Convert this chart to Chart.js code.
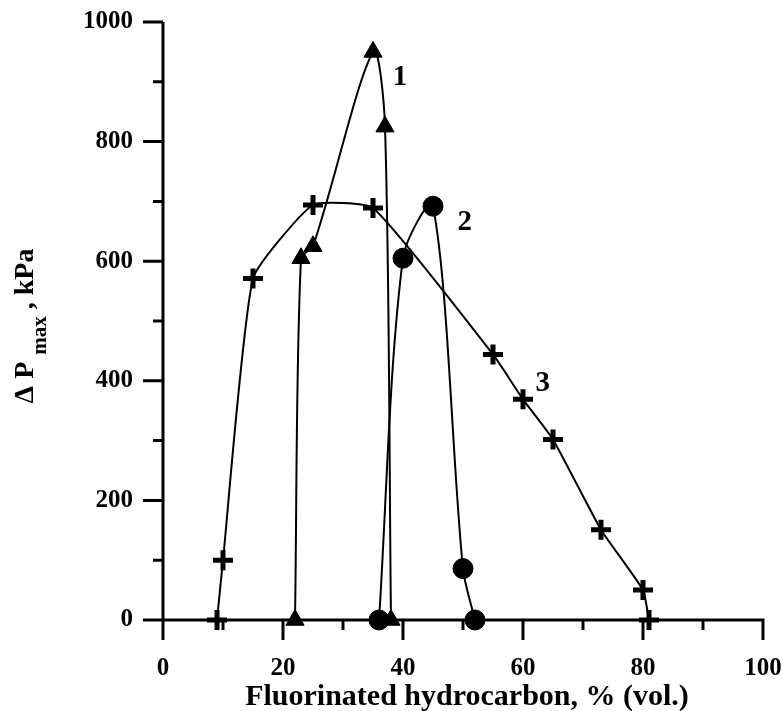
<!DOCTYPE html>
<html>
<head>
<meta charset="utf-8">
<script src="https://cdn.jsdelivr.net/npm/chart.js@4.4.0/dist/chart.umd.min.js"></script>
<style>
  html, body { margin: 0; padding: 0; background: #fff; }
  #wrap { width: 783px; height: 711px; }
</style>
</head>
<body>
<div id="wrap"><canvas id="myChart" width="783" height="711"></canvas></div>
<script>
// curve 1 (triangles)
const x1 = [22, 23, 25, 35, 37, 38];
const y1 = [0, 605, 625, 950, 825, 0];
// curve 2 (circles)
const x2 = [36, 40, 45, 50, 52];
const y2 = [0, 605, 692, 86, 0];
// curve 3 (crosses)
const x3 = [9, 10, 15, 25, 35, 55, 60, 65, 73, 80, 81];
const y3 = [0, 100, 571, 694, 689, 444, 369, 302, 151, 50, 0];

const curveNames = ['1', '2', '3'];
const nameAtX = [39.5, 50.3, 63.3];
const nameAtY = [908, 664, 396];

const xTicks = [0, 20, 40, 60, 80, 100];
const yTicks = [0, 200, 400, 600, 800, 1000];

const FONT = '"Liberation Serif", "Times New Roman", serif';

function pts(xs, ys){
  return xs.map(function(x, i){ return {x: x, y: ys[i]}; });
}

// axes, ticks, curve numbers and axis titles
const decor = {
  id: 'decor',
  afterDatasetsDraw(chart){
    const c = chart.ctx, xs = chart.scales.x, ys = chart.scales.y;
    const x0 = xs.getPixelForValue(0), yb = ys.getPixelForValue(0);
    c.save();
    c.strokeStyle = '#000';
    c.lineWidth = 3;
    c.lineCap = 'butt';
    c.beginPath();
    c.moveTo(x0, ys.getPixelForValue(1000));
    c.lineTo(x0, yb + 20);
    c.moveTo(x0 - 20, yb);
    c.lineTo(xs.getPixelForValue(100) + 1.5, yb);
    for (let v = 0; v <= 1000; v += 100){
      const p = ys.getPixelForValue(v);
      const len = (v % 200 === 0) ? 20 : 10;
      c.moveTo(x0 - len, p); c.lineTo(x0, p);
    }
    for (let v = 0; v <= 100; v += 10){
      const p = xs.getPixelForValue(v);
      const len = (v % 20 === 0) ? 20 : 10;
      c.moveTo(p, yb); c.lineTo(p, yb + len);
    }
    c.stroke();

    c.fillStyle = '#000';
    c.font = 'bold 29px ' + FONT;
    c.textAlign = 'center';
    c.textBaseline = 'middle';
    for (let i = 0; i < curveNames.length; i++){
      c.fillText(curveNames[i], xs.getPixelForValue(nameAtX[i]), ys.getPixelForValue(nameAtY[i]));
    }

    // x title
    c.font = 'bold 30px ' + FONT;
    c.textBaseline = 'alphabetic';
    c.fillText('Fluorinated hydrocarbon, % (vol.)', 467, 705);

    // y title with subscript
    const parts = [
      {t: '\u0394 P ', f: 'bold 28px ' + FONT, dy: 0},
      {t: 'max', f: 'bold 21px ' + FONT, dy: 13},
      {t: ' , kPa', f: 'bold 28px ' + FONT, dy: 0}
    ];
    let w = 0;
    parts.forEach(function(p){ c.font = p.f; p.w = c.measureText(p.t).width; w += p.w; });
    c.translate(33, 326);
    c.rotate(-Math.PI / 2);
    c.textAlign = 'left';
    let px = -w / 2;
    parts.forEach(function(p){ c.font = p.f; c.fillText(p.t, px, p.dy); px += p.w; });
    c.restore();
  }
};

function ds(xs, ys, style, r, bw, tension){
  return {
    data: pts(xs, ys),
    showLine: true,
    tension: tension,
    borderColor: '#000',
    backgroundColor: '#000',
    borderWidth: 2,
    pointStyle: style,
    pointRadius: r,
    pointBorderWidth: bw,
    pointBorderColor: '#000',
    pointBackgroundColor: '#000',
    clip: false
  };
}

function noPad(s){
  s.paddingLeft = 0; s.paddingRight = 0; s.paddingTop = 0; s.paddingBottom = 0;
}

new Chart(document.getElementById('myChart').getContext('2d'), {
  type: 'scatter',
  data: {
    datasets: [
      ds(x1, y1, 'triangle', 10.5, 1, 0.3),
      ds(x2, y2, 'circle', 10, 1, 0.3),
      ds(x3, y3, 'cross', 10, 5, 0.15)
    ]
  },
  options: {
    responsive: false,
    animation: false,
    devicePixelRatio: 1,
    layout: { padding: { left: 0, right: 20, top: 22, bottom: 0 } },
    plugins: { legend: { display: false }, tooltip: { enabled: false } },
    scales: {
      x: {
        type: 'linear', min: 0, max: 100,
        afterBuildTicks(s){ s.ticks = xTicks.map(function(v){ return {value: v}; }); },
        ticks: { color: '#000', font: { family: FONT, size: 25, weight: 'bold' }, padding: 34, maxRotation: 0,
                 callback: function(v){ return String(v); } },
        grid: { display: false, drawTicks: false },
        border: { display: false },
        afterFit(s){ s.height = 91; noPad(s); }
      },
      y: {
        type: 'linear', min: 0, max: 1000,
        afterBuildTicks(s){ s.ticks = yTicks.map(function(v){ return {value: v}; }); },
        ticks: { color: '#000', font: { family: FONT, size: 25, weight: 'bold' }, padding: 30,
                 callback: function(v){ return String(v); } },
        grid: { display: false, drawTicks: false },
        border: { display: false },
        afterFit(s){ s.width = 163; noPad(s); }
      }
    }
  },
  plugins: [decor]
});
</script>
</body>
</html>
